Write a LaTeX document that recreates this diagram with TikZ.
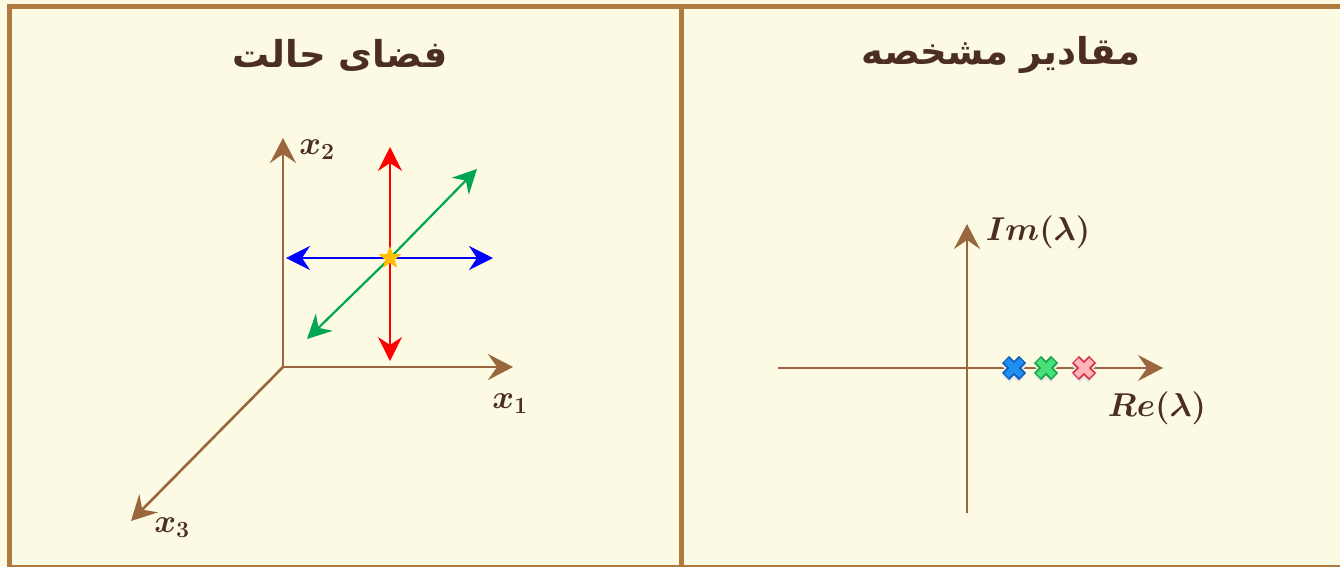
\RequirePackage{fix-cm}
\documentclass[tikz,border=0pt]{standalone}
\usepackage{amsmath,bm}
\usepackage{fontspec}
\newfontfamily\arabicfont[Script=Arabic]{DejaVu Sans}
\TeXXeTstate=1
\usetikzlibrary{arrows.meta,shapes.geometric,positioning}
\definecolor{bgcream}{HTML}{FCFAE3}
\definecolor{framebrown}{HTML}{B07B3F}
\definecolor{axisbrown}{HTML}{9A663D}
\definecolor{labelbrown}{HTML}{4B2E1F}
\definecolor{modegreen}{HTML}{00A651}
\definecolor{stargold}{HTML}{FFC000}
\definecolor{eigblue}{HTML}{1E8FF0}
\definecolor{eigblueedge}{HTML}{0A5CB8}
\definecolor{eiggreen}{HTML}{48E07A}
\definecolor{eiggreenedge}{HTML}{14A045}
\definecolor{eigpink}{HTML}{FFB4BA}
\definecolor{eigpinkedge}{HTML}{D43040}
\tikzset{
    panel/.style={draw=framebrown, line width=5pt},
    axis/.style={draw=axisbrown, line width=2.6pt,
                 -{Stealth[length=25pt, width=26pt, inset=9pt]}},
    mode/.style={line width=2.2pt, -{Stealth[length=24pt, width=24pt, inset=8pt]}},
    title/.style={font=\arabicfont\bfseries\fontsize{37}{40}\selectfont, text=labelbrown},
    lbl/.style={font=\fontsize{33}{36}\selectfont, text=labelbrown, inner sep=0pt},
    eqpt/.style={star, star points=5, star point ratio=2.4, fill=stargold,
                 minimum size=24pt, inner sep=0pt},
    pics/eigx/.style 2 args={code={
        \draw[black!10, line width=10pt] (-8,-5) -- (8,11) (-8,11) -- (8,-5);
        \draw[#2, line width=10pt] (-8.5,-8.5) -- (8.5,8.5) (-8.5,8.5) -- (8.5,-8.5);
        \draw[#1, line width=6.5pt] (-7.6,-7.6) -- (7.6,7.6) (-7.6,7.6) -- (7.6,-7.6);
    }},
}
\begin{document}
\begin{tikzpicture}[x=1pt, y=-1pt]
    \fill[bgcream] (0,0) rectangle (1340,566);
    \useasboundingbox (0,0) rectangle (1340,566);
    % frame and divider
    \draw[panel] (9.5,6) rectangle (1345,567);
    \draw[panel] (681,6) -- (681,567);
    % titles
    \node[title] (tstate) at (340,55) {\beginR فضای حالت\endR};
    \node[title] (teig)   at (1001,55) {\beginR مقادیر مشخصه\endR};

    % state space axes
    \coordinate (O)   at (283,367);
    \coordinate (x1e) at (513,367);
    \coordinate (x2e) at (283,138);
    \coordinate (x3e) at (131,521);
    \draw[axis] (O) -- (x1e);
    \draw[axis] (O) -- (x2e);
    \draw[axis] (O) -- (x3e);
    \node[lbl] (x1) at (510,404) {$\bm{x}_{\bm{1}}$};
    \node[lbl] (x2) at (317,150) {$\bm{x}_{\bm{2}}$};
    \node[lbl] (x3) at (172,528) {$\bm{x}_{\bm{3}}$};

    % modes around the equilibrium
    \coordinate (eq)    at (390,258);
    \coordinate (redup) at (390,147);
    \coordinate (reddn) at (390,361);
    \coordinate (bluel) at (286,258);
    \coordinate (bluer) at (493,258);
    \coordinate (grnup) at (477,169);
    \coordinate (grndn) at (307,339);
    \draw[mode, red]       (eq) -- (redup);
    \draw[mode, red]       (eq) -- (reddn);
    \draw[mode, blue]      (eq) -- (bluel);
    \draw[mode, blue]      (eq) -- (bluer);
    \draw[mode, modegreen] (eq) -- (grnup);
    \draw[mode, modegreen] (eq) -- (grndn);
    \node[eqpt] (star) at (eq) {};

    % eigenvalue plane
    \coordinate (imb) at (967,513);
    \coordinate (imt) at (967,224);
    \coordinate (rel) at (778,368);
    \coordinate (rer) at (1163,368);
    \draw[axis] (imb) -- (imt);
    \draw[axis] (rel) -- (rer);
    \node[lbl] (im) at (1038,232) {$\bm{Im(\lambda)}$};
    \node[lbl] (re) at (1157,408) {$\bm{Re(\lambda)}$};
    \pic at (1014,368) {eigx={eigblue}{eigblueedge}};
    \pic at (1046,368) {eigx={eiggreen}{eiggreenedge}};
    \pic at (1084,368) {eigx={eigpink}{eigpinkedge}};
\end{tikzpicture}
\end{document}
